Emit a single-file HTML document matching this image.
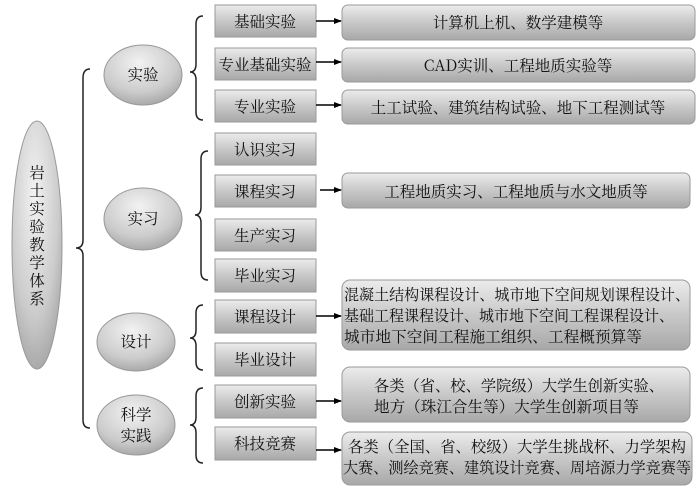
<!DOCTYPE html>
<html><head><meta charset="utf-8"><style>
body{margin:0;background:#fff;}
svg text{font-family:"Noto Serif CJK SC","Liberation Serif",serif;font-size:15.5px;fill:#111;}
</style></head><body>
<svg width="700" height="488" viewBox="0 0 700 488" xmlns="http://www.w3.org/2000/svg">
<defs>
<linearGradient id="bx" x1="0" y1="0" x2="0" y2="1"><stop offset="0" stop-color="#ececec"/><stop offset="0.5" stop-color="#c8c8c8"/><stop offset="1" stop-color="#a8a8a8"/></linearGradient>
<radialGradient id="el" cx="0.45" cy="0.3" r="0.8"><stop offset="0" stop-color="#f2f2f2"/><stop offset="0.6" stop-color="#cccccc"/><stop offset="1" stop-color="#9a9a9a"/></radialGradient>
<marker id="ar" markerWidth="8" markerHeight="8" refX="7" refY="4" orient="auto" markerUnits="userSpaceOnUse"><path d="M0,1 L8,4 L0,7 z" fill="#000"/></marker>
</defs>
<g fill="none" stroke="#222" stroke-width="1.5">
<path d="M90,69 Q83,69 83,78 L83,240 Q83,248 76,248 Q83,248 83,256 L83,420 Q83,428 90,428"/>
<path d="M203,16 Q196,16 196,24 L196,64 Q196,72 190,72 Q196,72 196,80 L196,112 Q196,120 203,120"/>
<path d="M208,151 Q201,151 201,159 L201,207 Q201,215 195,215 Q201,215 201,223 L201,272 Q201,280 208,280"/>
<path d="M203,305 Q196,305 196,313 L196,330 Q196,338 190,338 Q196,338 196,346 L196,362 Q196,370 203,370"/>
<path d="M203,388 Q196,388 196,396 L196,417 Q196,425 190,425 Q196,425 196,433 L196,455 Q196,463 203,463"/>
</g>
<ellipse cx="37" cy="245" rx="25" ry="124" fill="url(#el)" stroke="#999"/>
<g text-anchor="middle">
<text x="37" y="178">岩</text><text x="37" y="196">土</text><text x="37" y="214">实</text><text x="37" y="232">验</text><text x="37" y="250">教</text><text x="37" y="268">学</text><text x="37" y="286">体</text><text x="37" y="304">系</text>
</g>
<g stroke="#999" fill="url(#el)">
<ellipse cx="143" cy="75" rx="39" ry="30"/>
<ellipse cx="143" cy="219" rx="39" ry="31"/>
<ellipse cx="136" cy="342" rx="39" ry="29"/>
<ellipse cx="136" cy="425" rx="39" ry="30"/>
</g>
<g text-anchor="middle">
<text x="143" y="80">实验</text>
<text x="143" y="224">实习</text>
<text x="136" y="347">设计</text>
<text x="136" y="420">科学</text><text x="136" y="441">实践</text>
</g>
<g stroke="#9a9a9a" fill="url(#bx)">
<rect x="215" y="5" width="101" height="32"/>
<rect x="215" y="48" width="101" height="32"/>
<rect x="215" y="90" width="101" height="32"/>
<rect x="215" y="133" width="101" height="32"/>
<rect x="215" y="175" width="101" height="32"/>
<rect x="215" y="219" width="101" height="32"/>
<rect x="215" y="259" width="101" height="33"/>
<rect x="215" y="300" width="101" height="33"/>
<rect x="215" y="343" width="101" height="33"/>
<rect x="215" y="385" width="101" height="33"/>
<rect x="215" y="427" width="101" height="33"/>
<rect x="342" y="5" width="353" height="35" rx="6"/>
<rect x="342" y="48" width="353" height="34" rx="6"/>
<rect x="342" y="90" width="353" height="34" rx="6"/>
<rect x="342" y="173" width="348" height="35" rx="6"/>
<rect x="342" y="280" width="348" height="70" rx="8"/>
<rect x="342" y="367" width="348" height="55" rx="8"/>
<rect x="342" y="432" width="350" height="53" rx="8"/>
</g>
<g text-anchor="middle">
<text x="265" y="27">基础实验</text>
<text x="265" y="70">专业基础实验</text>
<text x="265" y="112">专业实验</text>
<text x="265" y="155">认识实习</text>
<text x="265" y="197">课程实习</text>
<text x="265" y="241">生产实习</text>
<text x="265" y="281">毕业实习</text>
<text x="265" y="322">课程设计</text>
<text x="265" y="365">毕业设计</text>
<text x="265" y="407">创新实验</text>
<text x="265" y="449">科技竞赛</text>
<text x="518" y="28">计算机上机、数学建模等</text>
<text x="518" y="71">CAD实训、工程地质实验等</text>
<text x="518" y="113">土工试验、建筑结构试验、地下工程测试等</text>
<text x="516" y="197">工程地质实习、工程地质与水文地质等</text>
</g>
<text x="344" y="300" textLength="346" lengthAdjust="spacingAndGlyphs">混凝土结构课程设计、城市地下空间规划课程设计、</text>
<text x="344" y="321" textLength="330" lengthAdjust="spacingAndGlyphs">基础工程课程设计、城市地下空间工程课程设计、</text>
<text x="344" y="342" textLength="298" lengthAdjust="spacingAndGlyphs">城市地下空间工程施工组织、工程概预算等</text>
<text x="374" y="391" textLength="290" lengthAdjust="spacingAndGlyphs">各类（省、校、学院级）大学生创新实验、</text>
<text x="374" y="412" textLength="265" lengthAdjust="spacingAndGlyphs">地方（珠江合生等）大学生创新项目等</text>
<text x="348" y="452" textLength="338" lengthAdjust="spacingAndGlyphs">各类（全国、省、校级）大学生挑战杯、力学架构</text>
<text x="343" y="473" textLength="348" lengthAdjust="spacingAndGlyphs">大赛、测绘竞赛、建筑设计竞赛、周培源力学竞赛等</text>
<g stroke="#000" stroke-width="1.5" marker-end="url(#ar)">
<line x1="316" y1="21" x2="341" y2="21"/>
<line x1="316" y1="62" x2="341" y2="62"/>
<line x1="316" y1="105" x2="341" y2="105"/>
<line x1="320" y1="190" x2="341" y2="190"/>
<line x1="316" y1="316" x2="341" y2="316"/>
<line x1="316" y1="401" x2="341" y2="401"/>
<line x1="316" y1="450" x2="341" y2="450"/>
</g>
</svg>
</body></html>
